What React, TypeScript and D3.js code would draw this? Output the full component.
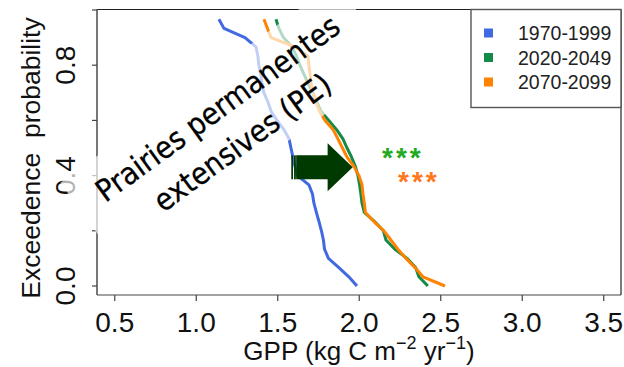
import React from "react";
import * as d3 from "d3";

const periods = ["1970-1999", "2020-2049", "2070-2099"];
const lineColors = ["#4169e1", "#138a48", "#ff8200"];

// GPP values sorted from largest (exceedance 0) to smallest
const gpp1970 = [1.986, 1.936, 1.875, 1.811, 1.787, 1.78, 1.768, 1.753, 1.737, 1.722, 1.713, 1.691, 1.621, 1.606, 1.593, 1.581, 1.569, 1.538, 1.495, 1.459, 1.44, 1.415, 1.403, 1.396, 1.384, 1.378, 1.366, 1.299, 1.17, 1.139];
const gpp2020 = [2.421, 2.366, 2.346, 2.293, 2.219, 2.164, 2.148, 2.094, 2.031, 2.017, 2.01, 2.002, 1.992, 1.976, 1.953, 1.925, 1.9, 1.861, 1.813, 1.765, 1.74, 1.716, 1.687, 1.661, 1.636, 1.615, 1.587, 1.535, 1.507, 1.489];
const gpp2070 = [2.526, 2.391, 2.342, 2.287, 2.237, 2.194, 2.151, 2.09, 2.038, 2.031, 2.023, 2.017, 1.998, 1.967, 1.925, 1.897, 1.869, 1.839, 1.79, 1.756, 1.734, 1.716, 1.704, 1.698, 1.691, 1.685, 1.606, 1.458, 1.437, 1.415];
const seriesValues = [gpp1970, gpp2020, gpp2070];

const xTicks = [0.5, 1.0, 1.5, 2.0, 2.5, 3.0, 3.5];
const yTickMarks = [0, 0.2, 0.4, 0.6, 0.8, 1.0];
const yTickLabels = [0, 0.4, 0.8];

const W = 624;
const H = 367;
const sans = "'Liberation Sans', Arial, sans-serif";
const boxFont = "'DejaVu Sans', Verdana, sans-serif";

export default function App() {
  const x = d3.scaleLinear().domain([0.391, 3.606]).range([97, 621]);
  const y = d3.scaleLinear().domain([0, 1]).range([286, 10]);
  const [x0, x1] = x.range();
  const yBottom = 295;
  const yTop = 9.5;

  const line = d3
    .line<[number, number]>()
    .x((d) => x(d[0]))
    .y((d) => y(d[1]));

  const seriesPoints = seriesValues.map((vals) =>
    vals.map((v, i) => [v, i / vals.length] as [number, number])
  );

  // striped right arrow annotation
  const ay = y(0.43);
  const bodyL = x(1.613);
  const headB = x(1.806);
  const tip = x(1.96);
  const arrowPath = `M ${bodyL} ${ay - 12} L ${headB} ${ay - 12} L ${headB} ${ay - 24} L ${tip} ${ay} L ${headB} ${ay + 24} L ${headB} ${ay + 12} L ${bodyL} ${ay + 12} Z`;

  return (
    <svg
      width={W}
      height={H}
      style={{ position: "absolute", left: 0, top: 0, background: "#fff" }}
    >
      {/* lines */}
      {seriesPoints.map((pts, k) => (
        <path
          key={k}
          d={line(pts) || ""}
          fill="none"
          stroke={lineColors[k]}
          strokeWidth={3}
          strokeLinejoin="round"
        />
      ))}

      {/* plot box */}
      <line x1={x0} x2={x1} y1={yTop} y2={yTop} stroke="#222" strokeWidth={1.2} />
      <line x1={x1} x2={x1} y1={yTop} y2={yBottom} stroke="#222" strokeWidth={1.2} />
      <line x1={x0} x2={x1} y1={yBottom} y2={yBottom} stroke="#444" strokeWidth={1.2} />
      <line x1={x0} x2={x0} y1={yTop} y2={yBottom} stroke="#555" strokeWidth={1.6} />

      {/* x ticks */}
      {xTicks.map((t) => (
        <g key={t}>
          <line x1={x(t)} x2={x(t)} y1={yBottom} y2={yBottom + 6} stroke="#444" strokeWidth={1.2} />
          <text
            x={x(t)}
            y={332}
            textAnchor="middle"
            fontFamily={sans}
            fontSize={28}
            fill="#111"
          >
            {t.toFixed(1)}
          </text>
        </g>
      ))}

      {/* y ticks */}
      {yTickMarks.map((t) => (
        <line key={t} x1={x0 - 5} x2={x0} y1={y(t)} y2={y(t)} stroke="#444" strokeWidth={1.2} />
      ))}
      {yTickLabels.map((t) => (
        <text
          key={t}
          transform={`translate(75,${y(t)}) rotate(-90)`}
          textAnchor="middle"
          fontFamily={sans}
          fontSize={28}
          fill="#111"
        >
          {t.toFixed(1)}
        </text>
      ))}

      {/* axis titles */}
      <text
        transform={`translate(40,158) rotate(-90)`}
        textAnchor="middle"
        fontFamily={sans}
        fontSize={26.5}
        fill="#111"
        style={{ whiteSpace: "pre" }}
      >
        {"Exceedence  probability"}
      </text>
      <text x={359} y={360} textAnchor="middle" fontFamily={sans} fontSize={26} fill="#111">
        GPP (kg C m
        <tspan dy={-11} fontSize={18}>−2</tspan>
        <tspan dy={11}> yr</tspan>
        <tspan dy={-11} fontSize={18}>−1</tspan>
        <tspan dy={11}>)</tspan>
      </text>

      {/* text box with translucent white fill */}
      <g transform="translate(224,117) rotate(-36)">
        <rect x={-171} y={-43} width={341} height={100} fill="#fff" opacity={0.68} />
        <text
          x={0}
          y={0}
          textAnchor="middle"
          fontFamily={boxFont}
          fontSize={30.5}
          fill="#000"
          stroke="#000"
          strokeWidth={0.3}
          style={{ fontStretch: "condensed" }}
        >
          Prairies permanentes
        </text>
        <text
          x={0}
          y={42}
          textAnchor="middle"
          fontFamily={boxFont}
          fontSize={30.5}
          fill="#000"
          stroke="#000"
          strokeWidth={0.3}
          style={{ fontStretch: "condensed" }}
        >
          extensives (PE)
        </text>
      </g>

      {/* arrow */}
      <g fill="#003a00">
        <rect x={x(1.583)} y={ay - 12} width={1.7} height={24} />
        <rect x={x(1.6)} y={ay - 12} width={1.8} height={24} />
        <path d={arrowPath} />
      </g>

      {/* significance stars */}
      <text x={382} y={167} fontFamily={sans} fontSize={28} fontWeight="bold" fill="#22aa22" letterSpacing={3}>
        ***
      </text>
      <text x={398} y={191} fontFamily={sans} fontSize={28} fontWeight="bold" fill="#ff7820" letterSpacing={3}>
        ***
      </text>

      {/* legend */}
      <rect x={471} y={yTop} width={150} height={98} fill="#fff" stroke="#555" strokeWidth={1.4} />
      {periods.map((p, i) => (
        <g key={p}>
          <rect x={484} y={28.5 + i * 24.5} width={9} height={9} fill={lineColors[i]} />
          <text x={518} y={40 + i * 24.5} fontFamily={sans} fontSize={19.5} fill="#222">
            {p}
          </text>
        </g>
      ))}
    </svg>
  );
}
